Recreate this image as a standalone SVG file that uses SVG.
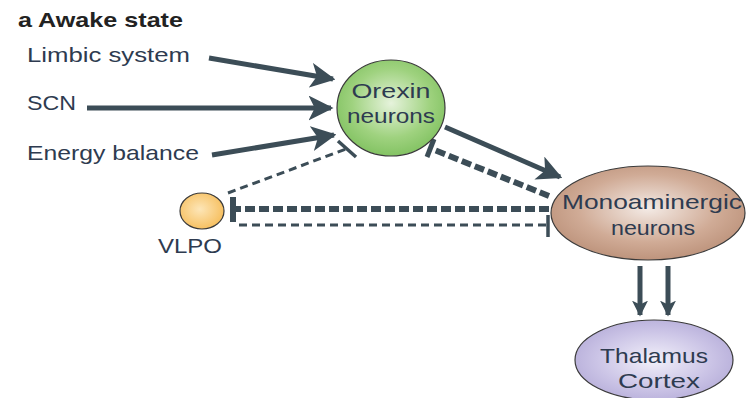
<svg xmlns="http://www.w3.org/2000/svg" width="749" height="398" viewBox="0 0 749 398">
<style>
.lbl{font-family:"Liberation Sans","Open Sans",sans-serif;font-size:21px;fill:#2e3b50}
.nd{font-family:"Liberation Sans","Open Sans",sans-serif;font-size:21px;fill:#2e3b50;text-anchor:middle}
.title{font-family:"Liberation Sans","Open Sans",sans-serif;font-size:21px;font-weight:bold;fill:#222}
.ol{stroke:#3a3a3a;stroke-width:1.2}
.arr{stroke:#3c4d57;stroke-width:5;fill:none}
.thick{stroke:#3c4d57;stroke-width:6;fill:none;stroke-dasharray:10 4}
.thin{stroke:#3c4d57;stroke-width:3;fill:none;stroke-dasharray:8 5}
.bar{stroke:#3c4d57;fill:none}
</style>
<defs>
<marker id="ah" viewBox="0 0 10 10" refX="9" refY="5" markerWidth="5" markerHeight="5" orient="auto" markerUnits="strokeWidth">
<path d="M0,0 L10,5 L0,10 L2.5,5 Z" fill="#3c4d57"/>
</marker>
<marker id="ahd" viewBox="0 0 10 10" refX="9" refY="5" markerWidth="3.2" markerHeight="3.2" orient="auto" markerUnits="strokeWidth">
<path d="M0,0 L10,5 L0,10 L2.5,5 Z" fill="#3c4d57"/>
</marker>
<radialGradient id="gG" cx="0.5" cy="0.45" r="0.6"><stop offset="0" stop-color="#e6f3dc"/><stop offset="0.6" stop-color="#9fd27f"/><stop offset="1" stop-color="#7cbf5c"/></radialGradient>
<radialGradient id="gB" cx="0.5" cy="0.45" r="0.6"><stop offset="0" stop-color="#f4ebe6"/><stop offset="0.6" stop-color="#d0ab96"/><stop offset="1" stop-color="#b98e76"/></radialGradient>
<radialGradient id="gP" cx="0.5" cy="0.5" r="0.6"><stop offset="0" stop-color="#f2f0fa"/><stop offset="0.6" stop-color="#cbc4e6"/><stop offset="1" stop-color="#b1a8d6"/></radialGradient>
<radialGradient id="gO" cx="0.45" cy="0.45" r="0.6"><stop offset="0" stop-color="#fde6b8"/><stop offset="1" stop-color="#f6bd5a"/></radialGradient>
</defs>

<text class="title" x="18" y="27" textLength="165" lengthAdjust="spacingAndGlyphs">a Awake state</text>

<g id="connectors">
<line class="arr" x1="209" y1="58" x2="333" y2="79" marker-end="url(#ah)"/>
<line class="arr" x1="87" y1="108" x2="331" y2="108" marker-end="url(#ah)"/>
<line class="arr" x1="212" y1="155" x2="334" y2="135" marker-end="url(#ah)"/>
<line class="arr" x1="445" y1="127" x2="560" y2="177" marker-end="url(#ah)"/>
<line class="thin" x1="228" y1="193" x2="346" y2="149"/>
<line class="bar" stroke-width="3.5" x1="338" y1="141" x2="356" y2="157"/>
<line class="thick" stroke-width="5" x1="549" y1="196" x2="432" y2="149"/>
<line class="bar" stroke-width="5" x1="427" y1="157" x2="434" y2="139"/>
<line class="thick" x1="549" y1="209" x2="236" y2="209"/>
<line class="bar" stroke-width="6" x1="233" y1="197" x2="233" y2="222"/>
<line class="thin" x1="239" y1="225" x2="548" y2="225"/>
<line class="bar" stroke-width="3.5" x1="548" y1="215" x2="548" y2="237"/>
<line class="arr" stroke-width="7" x1="640" y1="266" x2="640" y2="315" marker-end="url(#ahd)"/>
<line class="arr" stroke-width="7" x1="668" y1="266" x2="668" y2="315" marker-end="url(#ahd)"/>
</g>

<g id="limbic"><text class="lbl" x="27" y="62" textLength="163" lengthAdjust="spacingAndGlyphs">Limbic system</text></g>
<g id="scn"><text class="lbl" x="27" y="110" textLength="49" lengthAdjust="spacingAndGlyphs">SCN</text></g>
<g id="energy"><text class="lbl" x="27" y="160" textLength="172" lengthAdjust="spacingAndGlyphs">Energy balance</text></g>

<g id="orexin">
<ellipse class="ol" cx="391" cy="108" rx="54" ry="48" fill="url(#gG)"/>
<text class="nd" x="391" y="98" textLength="79" lengthAdjust="spacingAndGlyphs">Orexin</text>
<text class="nd" x="391" y="123" textLength="88" lengthAdjust="spacingAndGlyphs">neurons</text>
</g>

<g id="monoamine">
<ellipse class="ol" cx="648" cy="213" rx="97" ry="47" fill="url(#gB)"/>
<text class="nd" x="652" y="209" textLength="180" lengthAdjust="spacingAndGlyphs">Monoaminergic</text>
<text class="nd" x="653" y="235" textLength="84" lengthAdjust="spacingAndGlyphs">neurons</text>
</g>

<g id="vlpo">
<ellipse class="ol" cx="202" cy="211" rx="22" ry="18" fill="url(#gO)"/>
<text class="lbl" x="190" y="253" text-anchor="middle" textLength="64" lengthAdjust="spacingAndGlyphs">VLPO</text>
</g>

<g id="thalamus">
<ellipse class="ol" cx="654" cy="360" rx="79" ry="40" fill="url(#gP)"/>
<text class="nd" x="654" y="363" textLength="108" lengthAdjust="spacingAndGlyphs">Thalamus</text>
<text class="nd" x="659" y="388" textLength="82" lengthAdjust="spacingAndGlyphs">Cortex</text>
</g>
</svg>
